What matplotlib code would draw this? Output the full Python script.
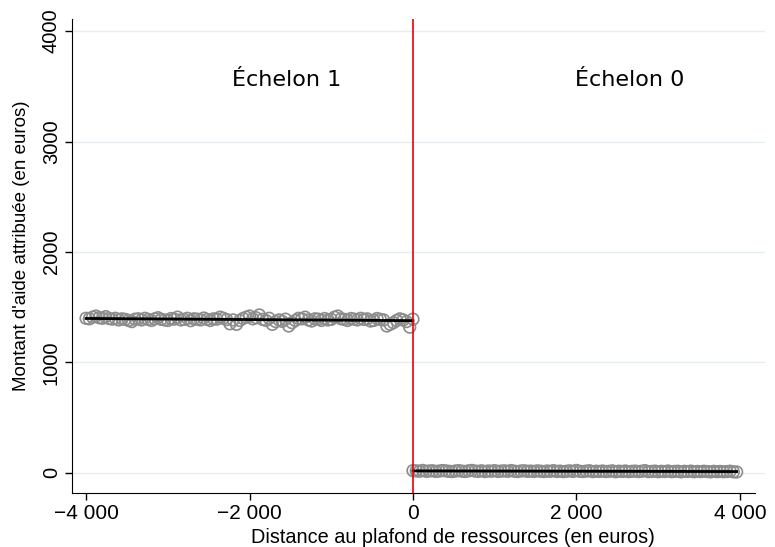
import numpy as np
import matplotlib.pyplot as plt

# Bins of distance to the income ceiling (euros)
x_left = np.arange(-4000, 1, 40)
x_right = np.arange(0, 3961, 40)

# Mean aid per bin
y_left = [1400, 1395, 1410, 1420, 1405, 1400, 1415, 1398, 1392, 1400,
          1385, 1395, 1390, 1380, 1370, 1392, 1395, 1385, 1400, 1390,
          1380, 1395, 1405, 1390, 1385, 1380, 1398, 1392, 1410, 1385,
          1390, 1400, 1378, 1395, 1392, 1385, 1402, 1390, 1380, 1395,
          1392, 1410, 1400, 1388, 1350, 1385, 1345, 1380, 1398, 1410,
          1420, 1395, 1405, 1430, 1390, 1380, 1400, 1345, 1370, 1385,
          1372, 1392, 1330, 1360, 1380, 1400, 1395, 1410, 1385, 1375,
          1395, 1392, 1380, 1398, 1385, 1390, 1410, 1420, 1395, 1390,
          1380, 1398, 1392, 1385, 1400, 1390, 1395, 1375, 1380, 1398,
          1390, 1385, 1330, 1345, 1360, 1380, 1395, 1385, 1370, 1320,
          1392]
y_right = [20, 18, 15, 22, 14, 17, 19, 13, 16, 21,
           18, 14, 12, 17, 20, 15, 13, 18, 22, 16,
           14, 19, 12, 17, 15, 20, 13, 16, 18, 14,
           21, 15, 12, 17, 19, 14, 16, 13, 18, 15,
           12, 17, 14, 20, 13, 16, 11, 15, 18, 13,
           22, 14, 12, 16, 19, 11, 15, 13, 17, 12,
           14, 18, 10, 15, 13, 17, 11, 14, 16, 12,
           15, 20, 11, 13, 16, 10, 14, 12, 17, 11,
           13, 15, 9, 14, 12, 16, 10, 13, 11, 15,
           12, 9, 14, 11, 13, 10, 12, 15, 9, 8]

xticks = [-4000, -2000, 0, 2000, 4000]
xtick_labels = ["\u22124 000", "\u22122 000", "0", "2 000", "4 000"]
yticks = [0, 1000, 2000, 3000, 4000]

plt.rcParams['font.family'] = ['Liberation Sans', 'DejaVu Sans']

fig = plt.figure(figsize=(7.75, 5.47), dpi=100)
ax = fig.add_axes([0.093, 0.099, 0.894, 0.866])

ax.scatter(x_left, y_left, s=70, facecolors='none', edgecolors='#8c8c8c', linewidths=1.2, zorder=2)
ax.scatter(x_right, y_right, s=70, facecolors='none', edgecolors='#8c8c8c', linewidths=1.2, zorder=2)

# linear fits on each side
bl = np.polyfit(x_left, y_left, 1)
br = np.polyfit(x_right, y_right, 1)
ax.plot(x_left, np.polyval(bl, x_left), color='black', lw=2, zorder=3)
ax.plot(x_right, np.polyval(br, x_right), color='black', lw=2, zorder=3)

ax.axvline(0, color='#e8000b', lw=1.2, zorder=4)

ax.text(-1550, 3560, "\u00c9chelon 1", fontsize=16, ha='center', va='center', family='DejaVu Sans')
ax.text(2650, 3560, "\u00c9chelon 0", fontsize=16, ha='center', va='center', family='DejaVu Sans')

ax.set_xlim(-4171, 4306)
ax.set_ylim(-181, 4109)
ax.set_xticks(xticks)
ax.set_xticklabels(xtick_labels, fontsize=15)
ax.set_yticks(yticks)
ax.set_yticklabels([str(v) for v in yticks], fontsize=14.5, rotation=90, va='center')
ax.grid(axis='y', color='#e6edf0', lw=1, zorder=0)
ax.set_axisbelow(True)
ax.spines['top'].set_visible(False)
ax.spines['right'].set_visible(False)
ax.spines['bottom'].set_bounds(-4171, 4183)
ax.spines['left'].set_bounds(-181, 4109)
ax.tick_params(axis='x', length=5, width=1, pad=3)
ax.tick_params(axis='y', length=5, width=1, pad=3)

ax.set_xlabel("Distance au plafond de ressources (en euros)", fontsize=14.3)
ax.set_ylabel("Montant d'aide attribu\u00e9e (en euros)", fontsize=13.5)
ax.xaxis.set_label_coords(0.55, -0.074)
ax.yaxis.set_label_coords(-0.061, 0.521)

fig.savefig("out.png", dpi=100)
